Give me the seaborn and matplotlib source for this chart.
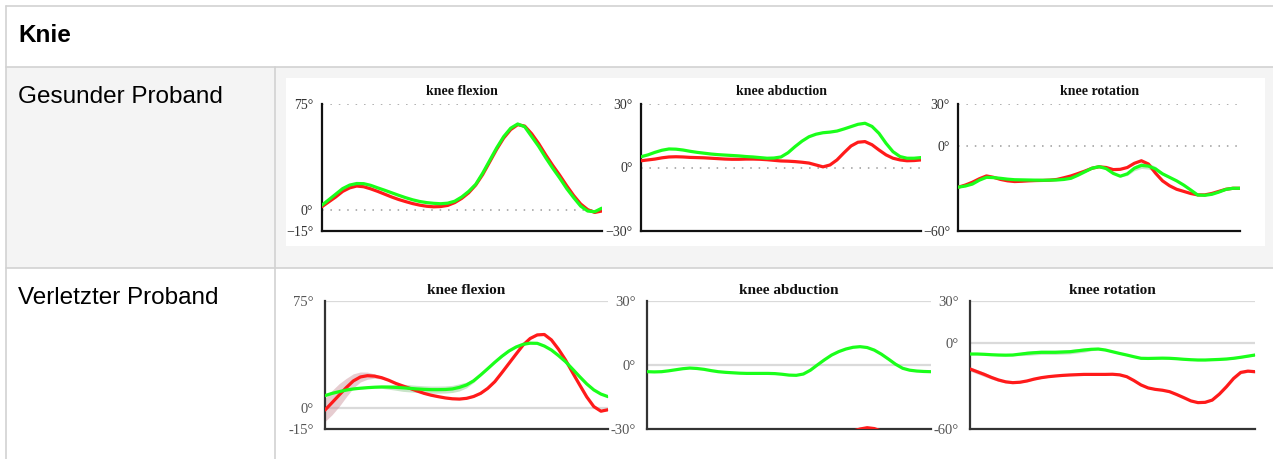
import numpy as np
import matplotlib
matplotlib.use("Agg")
import matplotlib.pyplot as plt
from matplotlib.patches import Rectangle
import seaborn as sns

# % of gait cycle
gait = [i * 2.5 for i in range(41)]

row_labels = ["Gesunder Proband", "Verletzter Proband"]
panel_titles = ["knee flexion", "knee abduction", "knee rotation"]
panel_ylims = [(-15, 75), (-30, 30), (-60, 30)]
panel_yticks = [[75, 0, -15], [30, 0, -30], [30, 0, -60]]
healthy_ticklabels = [["75°", "0°", "\u221215°"], ["30°", "0°", "\u221230°"], ["30°", "0°", "\u221260°"]]
injured_ticklabels = [["75°", "0°", "-15°"], ["30°", "0°", "-30°"], ["30°", "0°", "-60°"]]

# healthy subject
healthy_flex_red = [2, 5.5, 9, 13, 15.5, 16.8, 16.3, 14.8, 13, 11, 9, 7.2, 5.7, 4.3, 3.2, 2.4, 2, 2.2, 3, 5,
                    8, 12, 17.5, 25, 34, 43, 51, 57, 60.5, 59.5, 54, 47, 39, 31.5, 24.5, 17, 10, 4, 0, -2, -1]
healthy_flex_green = [3, 7, 11, 15, 17.5, 18.6, 18.5, 17.3, 15.5, 13.8, 12, 10.2, 8.5, 7, 5.8, 5, 4.5, 4.2, 4.6, 6,
                      9, 13, 18, 26, 35, 44, 52, 58, 61, 59, 52, 45, 37, 29.5, 22.5, 15, 8.5, 2.5, -1, -1.5, 1]
healthy_abd_red = [3.2, 3.6, 4, 4.6, 5, 5.1, 5, 4.8, 4.7, 4.6, 4.4, 4.2, 4, 3.9, 3.9, 4, 4, 3.9, 3.7, 3.4,
                   3.1, 3, 2.8, 2.5, 2.1, 1.2, 0.3, 1.2, 3.6, 7, 10.2, 12, 12.3, 10.8, 8.3, 6, 4.4, 3.6, 3.2, 3.3, 3.6]
healthy_abd_green = [5.1, 6, 7.2, 8.2, 8.8, 8.7, 8.3, 7.7, 7.2, 6.8, 6.4, 6.1, 5.9, 5.7, 5.5, 5.2, 5, 4.7, 4.4, 4.5,
                     5, 7, 9.9, 12.5, 14.6, 15.8, 16.5, 16.8, 17.3, 18.3, 19.4, 20.5, 21, 19.5, 16.2, 11.5, 7.5, 5.2,
                     4.4, 4.4, 4.7]
healthy_rot_red = [-29, -27.5, -25.5, -23, -21, -22, -23.5, -24.5, -25, -24.8, -24.5, -24.3, -24.2, -24, -23.5,
                   -22.3, -21, -19.3, -17.5, -15.5, -14.5, -15, -16.5, -16.3, -15, -12, -10.2, -12.5, -19, -24.5,
                   -28, -30.5, -32, -33.5, -34.5, -34.5, -33.5, -32, -30.5, -29.8, -29.8]
healthy_rot_green = [-29, -28.2, -26.8, -24, -22, -22.2, -22.7, -23.3, -23.7, -23.8, -23.9, -24, -24.1, -24, -23.9,
                     -23.5, -22.7, -20.5, -18, -15.5, -14.4, -15.8, -19.2, -21.2, -19.5, -15.5, -13.5, -14, -16,
                     -19.5, -22, -24.5, -27.5, -31, -34.6, -34.8, -34.1, -32.5, -30.6, -29.8, -29.8]

# injured subject
injured_flex_red = [-1.7, 3.5, 8.8, 14, 18.7, 21.5, 22.4, 22.1, 21, 19.2, 17, 15.2, 13.5, 11.7, 10, 8.7, 7.7, 6.8,
                    6.2, 6, 6.5, 7.8, 10, 13.5, 18.2, 24.5, 31, 37.5, 43.9, 48.5, 51, 51.3, 47.5, 41, 33.4, 24.5,
                    15.9, 7.5, 0.7, -2.5, -1.5]
injured_flex_green = [8.4, 10, 11.2, 12.3, 13.1, 13.6, 14, 14.3, 14.5, 14.4, 14.2, 13.9, 13.5, 13.1, 12.8, 12.6,
                      12.6, 12.7, 13.1, 14.2, 15.9, 18.8, 22.9, 27.3, 31.8, 36, 39.7, 42.5, 44.4, 45.2, 45.1, 43.2,
                      40.4, 36.5, 32.2, 27, 21.7, 16.6, 12.4, 9.5, 7.7]
injured_abd_red = [-48, -47.5, -47, -46.5, -46, -46, -46, -46.5, -47, -47.5, -48, -48, -48, -47.5, -47, -46.5, -46,
                   -45.5, -45, -44.5, -44, -43, -42, -41, -40, -38, -36, -34, -32.5, -31, -30, -29.4, -29.8, -31,
                   -33, -35.5, -38, -40, -41, -42, -42]
injured_abd_green = [-3.2, -3.3, -3.2, -2.8, -2.3, -1.8, -1.5, -1.7, -2.1, -2.7, -3.2, -3.5, -3.7, -3.9, -4, -4, -4,
                     -4, -4.1, -4.4, -4.8, -4.9, -4.3, -2.5, 0, 2.4, 4.6, 6.2, 7.4, 8.2, 8.5, 8.1, 6.9, 5, 2.7, 0.3,
                     -1.6, -2.5, -2.9, -3.1, -3.2]
injured_rot_red = [-17.9, -19.8, -21.7, -23.8, -25.6, -26.9, -27.5, -27.2, -26.3, -25, -24, -23.3, -22.8, -22.4,
                   -22.1, -21.9, -21.7, -21.7, -21.7, -21.7, -21.6, -22, -23.3, -26, -29.1, -31.2, -32.2, -32.8,
                   -33.8, -35.8, -38, -40.3, -41.5, -41.3, -39.7, -35.5, -30.3, -24.5, -20.3, -19.4, -19.8]
injured_rot_green = [-7.4, -7.4, -7.6, -7.9, -8.1, -8.2, -8.1, -7.5, -6.9, -6.5, -6.2, -6.2, -6.2, -6, -5.8, -5.2,
                     -4.6, -4.1, -3.9, -4.6, -5.8, -7, -8.1, -9.3, -10.4, -10.5, -10.4, -10.3, -10.4, -10.7, -11.1,
                     -11.4, -11.6, -11.6, -11.4, -11.2, -10.9, -10.4, -9.7, -8.9, -8.1]

# spread bands (±) where visible
healthy_rot_green_sd = [0, 0, 0, 0, 0, 0, 0, 0, 0, 0, 0, 0, 0, 0, 0, 0, 0, 0, 0, 0,
                        0, 0, 0, 0.5, 1.2, 1.8, 2.2, 2.2, 1.8, 1, 0.5, 0, 0, 0, 0, 0, 0, 0, 0, 0, 0]
injured_flex_red_sd = [8, 8.5, 8, 6.5, 5, 3.5, 2.5, 1.5, 1, 0.5, 0.5, 0.5, 0.5, 0.5, 0.5, 0.5, 0.5, 0.5, 0.5, 0.5,
                       0.5, 0.5, 0.5, 0.5, 0.5, 0.5, 0.5, 0.5, 0.5, 0.5, 0.5, 0.5, 0.5, 0.5, 0.5, 0.5, 0.5, 0.5,
                       0.5, 0.5, 0.5]
injured_flex_green_sd = [0.5, 0.5, 0.5, 0.5, 0.5, 0.5, 0.5, 0.5, 1, 1.5, 2, 2.5, 2.5, 2.5, 2.5, 2.5, 2.5, 2.5, 2.5,
                         2.5, 2, 1.2, 0.5, 0.5, 0.5, 0.5, 0.5, 0.5, 0.5, 0.5, 0.5, 0.5, 0.5, 0.5, 0.5, 0.5, 0.5,
                         0.5, 0.5, 0.5, 0.5]
injured_rot_red_sd = [1.5, 1.5, 1.5, 1.2, 1, 0.8, 0.5, 0.5, 0.5, 0.5, 0.5, 0.5, 0.5, 0.5, 0.5, 0.5, 0.5, 0.5, 0.5,
                      0.5, 0.5, 0.5, 0.5, 0.5, 0.5, 0.5, 0.5, 0.5, 0.5, 0.5, 0.5, 0.5, 0.5, 0.5, 0.6, 0.8, 1, 1, 1,
                      0.8, 0.8]
injured_rot_green_sd = [0.5, 0.5, 0.5, 0.5, 0.5, 0.5, 0.5, 1, 1.5, 1.5, 1.5, 1.5, 1.5, 1.5, 1.5, 1.5, 1.5, 1, 0.5,
                        0.5, 0.5, 0.5, 0.5, 0.5, 0.5, 0.5, 0.5, 0.5, 0.5, 0.5, 0.5, 0.5, 0.5, 0.5, 0.5, 0.5, 0.5,
                        0.5, 0.5, 0.5, 0.5]

healthy = [(healthy_flex_red, healthy_flex_green, None, None),
           (healthy_abd_red, healthy_abd_green, None, None),
           (healthy_rot_red, healthy_rot_green, None, healthy_rot_green_sd)]
injured = [(injured_flex_red, injured_flex_green, injured_flex_red_sd, injured_flex_green_sd),
           (injured_abd_red, injured_abd_green, None, None),
           (injured_rot_red, injured_rot_green, injured_rot_red_sd, injured_rot_green_sd)]

RED = '#ff1a1a'
GREEN = '#1aff1a'

if __name__ == '__main__':
    sns.set_style("white")
    plt.rcParams['font.family'] = ['Liberation Sans', 'DejaVu Sans']

    W, H = 1273, 459
    fig = plt.figure(figsize=(W / 100, H / 100), dpi=100)

    # table background drawn in pixel coordinates
    bg = fig.add_axes([0, 0, 1, 1])
    bg.set_xlim(0, W)
    bg.set_ylim(H, 0)
    bg.axis('off')
    line_c = '#d2d2d2'
    bg.add_patch(Rectangle((5.5, 67), W, 200.5, color='#f4f4f4', lw=0))
    bg.add_patch(Rectangle((286, 77.5), 979, 168.5, color='white', lw=0))
    for y in [6, 67, 267.5]:
        bg.plot([5.5, W], [y, y], color=line_c, lw=1.2)
    bg.plot([5.5, 5.5], [6, H], color=line_c, lw=1.2)
    bg.plot([274.5, 274.5], [67, H], color=line_c, lw=1.2)
    bg.text(18, 36, "Knie", fontsize=17.5, fontweight='bold', va='center', ha='left', color='black')
    bg.text(18, 97, row_labels[0], fontsize=17.5, va='center', ha='left', color='black')
    bg.text(18, 298, row_labels[1], fontsize=17.5, va='center', ha='left', color='black')

    # axes boxes in pixels: (left, right, top, bottom)
    row_boxes = [
        [(321.7, 601.7, 104.3, 230.7), (641, 921, 104.3, 230.7), (958.3, 1240, 104.3, 230.7)],
        [(325, 608, 300.7, 429), (647.3, 931, 300.7, 429), (970, 1255, 300.7, 429)],
    ]

    for r, (rows, labels) in enumerate([(healthy, healthy_ticklabels), (injured, injured_ticklabels)]):
        for p in range(3):
            l, rr, t, b = row_boxes[r][p]
            ax = fig.add_axes([l / W, 1 - b / H, (rr - l) / W, (b - t) / H])
            ax.set_facecolor('none')
            red, green, red_sd, green_sd = rows[p]

            if red_sd is not None:
                ax.fill_between(gait, np.array(red) - red_sd, np.array(red) + red_sd,
                                color='#c98e98', alpha=0.45, lw=0, zorder=1)
            if green_sd is not None:
                ax.fill_between(gait, np.array(green) - green_sd, np.array(green) + green_sd,
                                color='#9ccf9c', alpha=0.55, lw=0, zorder=1)
            sns.lineplot(x=gait, y=red, color=RED, linewidth=2.3, ax=ax, zorder=3)
            sns.lineplot(x=gait, y=green, color=GREEN, linewidth=2.3, ax=ax, zorder=4)

            lo, hi = panel_ylims[p]
            ax.set_xlim(0, 100)
            ax.set_ylim(lo, hi)
            ax.set_xticks([0, 25, 50, 75, 100])
            ax.set_xticklabels([])
            ax.set_yticks(panel_yticks[p])
            ax.set_yticklabels(labels[p])
            ax.set_xlabel('')
            ax.set_ylabel('')

            for gy in panel_yticks[p][:2]:
                if r == 0:
                    ax.axhline(gy, color='#9a9a9a', lw=1.1, linestyle=(0, (1, 4.5)), zorder=0)
                else:
                    ax.axhline(gy, color='#dadada', lw=1.6, zorder=0)

            spine_c = '#111111' if r == 0 else '#333333'
            tick_c = '#333333' if r == 0 else '#555555'
            for s in ['top', 'right']:
                ax.spines[s].set_visible(False)
            for s in ['left', 'bottom']:
                ax.spines[s].set_color(spine_c)
                ax.spines[s].set_linewidth(1.6)
            ax.tick_params(axis='both', direction='out', length=3, width=1.4, color=spine_c,
                           labelcolor=tick_c, pad=3 if r == 0 else 5)
            for lab in ax.get_yticklabels():
                lab.set_fontfamily(['Liberation Serif', 'DejaVu Serif'])
                lab.set_fontsize(10 if r == 0 else 10.5)
            ax.set_title(panel_titles[p], fontfamily=['Liberation Serif', 'DejaVu Serif'],
                         fontweight='bold', fontsize=10 if r == 0 else 11, color='#111111',
                         pad=6.5 if r == 0 else 4.8)

    plt.savefig('out.png', dpi=100)
